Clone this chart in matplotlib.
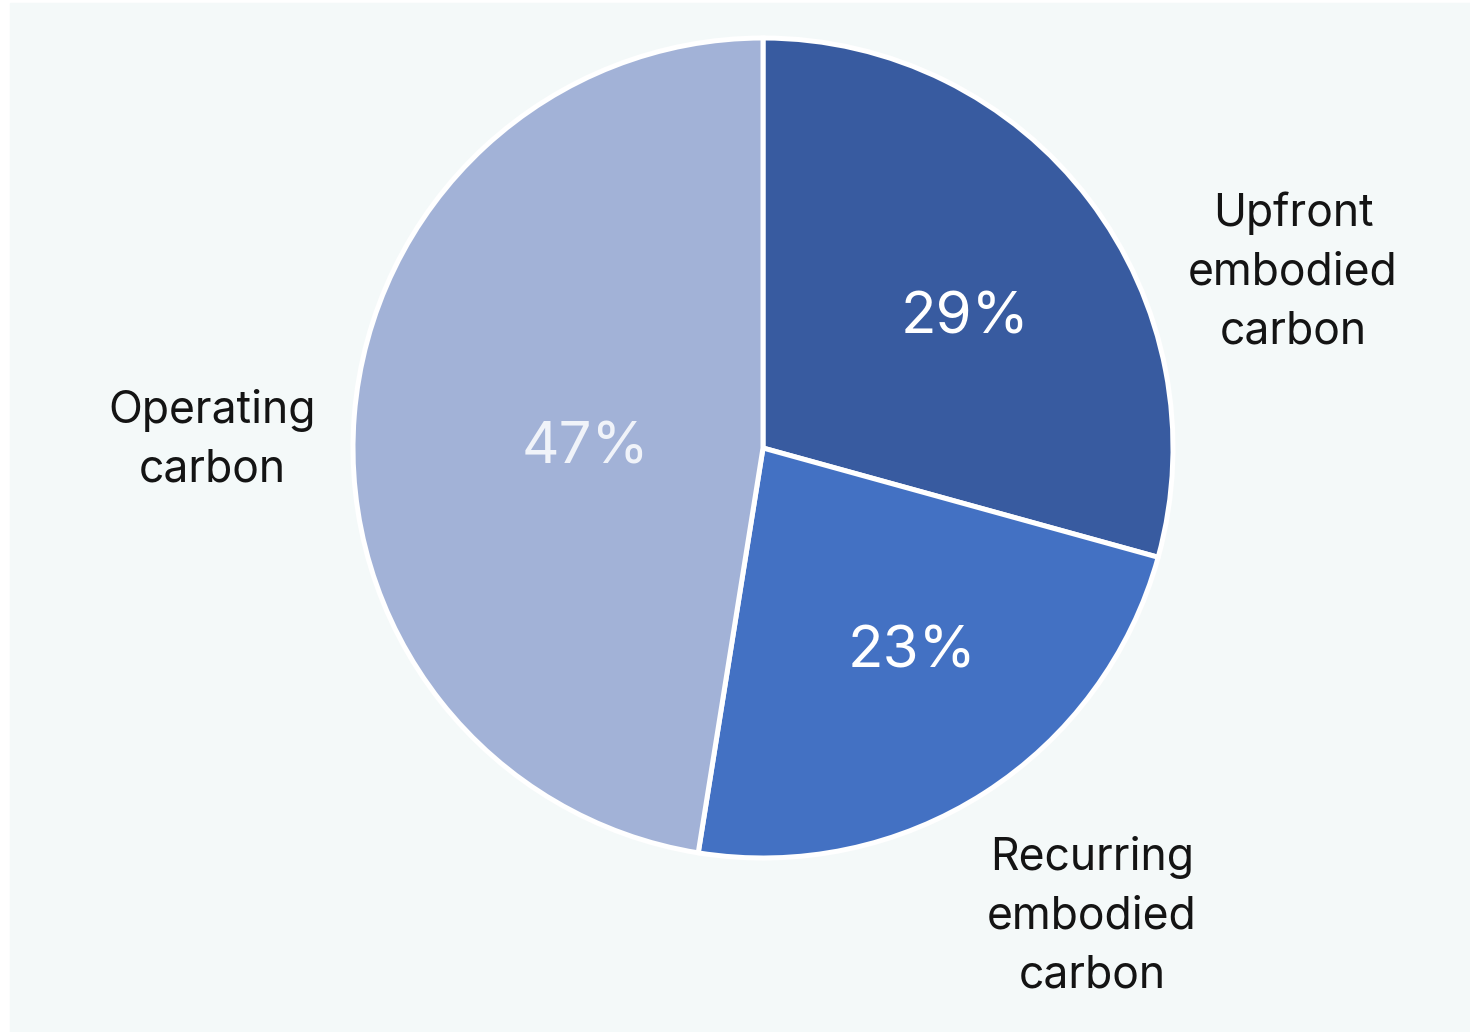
"""Carbon breakdown pie: upfront / recurring embodied vs operating carbon."""
import matplotlib
matplotlib.use("Agg")
import matplotlib.pyplot as plt  # noqa: E402
from matplotlib.patches import Rectangle  # noqa: E402

W, H = 1470, 1032

categories = ["Upfront\nembodied\ncarbon", "Recurring\nembodied\ncarbon", "Operating\ncarbon"]
shares = [29, 23, 47]
pct_labels = ["29%", "23%", "47%"]
colors = ["#385BA0", "#4371C3", "#A2B2D7"]

plt.rcParams["font.family"] = ["Inter", "DejaVu Sans"]

fig = plt.figure(figsize=(W / 100, H / 100), dpi=100, facecolor="white")
ax = fig.add_axes([0, 0, 1, 1])

# light panel behind the chart
ax.add_patch(Rectangle((10, 0), W - 10, H - 3, color="#F4F9F9", zorder=0))

cx, cy, r = 763, H - 448, 410
ax.pie(shares, colors=colors, startangle=90, counterclock=False,
       center=(cx, cy), radius=r, frame=True,
       wedgeprops=dict(edgecolor="white", linewidth=3.6))
ax.set_xlim(0, W); ax.set_ylim(0, H); ax.set_aspect("equal"); ax.axis("off")

# percentages inside the slices
pct_pos = [(965, 318), (912, 652), (585, 448)]
pct_col = ["white", "white", "#F0F3F9"]
for (x, y), t, c in zip(pct_pos, pct_labels, pct_col):
    ax.text(x, H - y, t, ha="center", va="center", fontsize=42, color=c, zorder=5)

# category labels outside
cat_pos = [(1293, 272), (1092, 916), (212, 440)]
for (x, y), t in zip(cat_pos, categories):
    ax.text(x, H - y, t, ha="center", va="center", fontsize=32, color="#141414",
            linespacing=1.5, zorder=5)

fig.savefig("out.png", dpi=100, facecolor=fig.get_facecolor())
